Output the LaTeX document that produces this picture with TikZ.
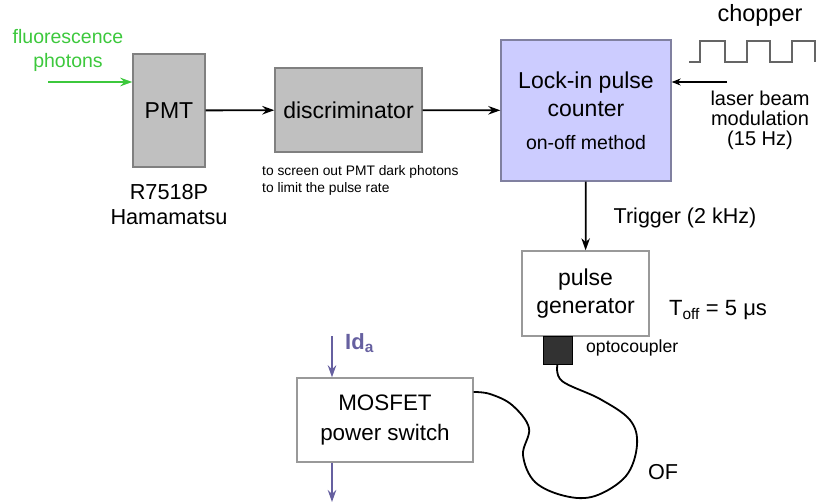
\documentclass[tikz,border=0pt]{standalone}
\usepackage{fontspec}
\setmainfont{Liberation Sans}
\usetikzlibrary{positioning}
\usetikzlibrary{arrows.meta}
\definecolor{boxgray}{RGB}{192,192,192}
\definecolor{edgegray}{RGB}{128,128,128}
\definecolor{lavender}{RGB}{204,204,255}
\definecolor{edgelav}{RGB}{128,128,160}
\definecolor{photongreen}{RGB}{60,200,60}
\definecolor{currentpurple}{RGB}{102,96,160}
\definecolor{optoblack}{RGB}{50,50,50}

\tikzset{
  unit/.style={draw=edgegray, line width=1.4pt, align=center, inner sep=0pt,
               font=\fontsize{23}{28}\selectfont},
  grayunit/.style={unit, fill=boxgray},
  sig/.style={->, line width=1.8pt},
  note/.style={align=center, font=\fontsize{20}{20}\selectfont}
}

\begin{document}
\begin{tikzpicture}[x=1pt, y=-1pt, >={Stealth[length=12pt,width=8.5pt]}]

\useasboundingbox (0,0) rectangle (817,503);

%---------------------------------------
% Detection chain
%---------------------------------------
\node[grayunit, minimum width=72pt, minimum height=113pt] (pmt) at (169,110.5) {PMT};
\node[grayunit, minimum width=147pt, minimum height=84pt] (disc) at (348.5,110) {discriminator};
\node[unit, fill=lavender, draw=edgelav, minimum width=170pt, minimum height=141pt] (lockin) at (586,110.5)
  {Lock-in pulse\\counter\\[5pt]{\fontsize{19.5}{22}\selectfont on-off method}};

% photons in
\node[note, text=photongreen, font=\fontsize{19.5}{24}\selectfont] (fluo) at (68,50) {fluorescence\\photons};
\coordinate (fl) at (48,82);
\draw[sig, photongreen] (fl) -- (pmt.west |- fl);

\node[note, font=\fontsize{21.7}{25}\selectfont] (pmtname) at (169,205) {R7518P\\Hamamatsu};

\draw[sig] (pmt) -- (disc);
\draw[sig] (disc) -- (lockin);

\node[align=left, anchor=west, inner sep=0pt, font=\fontsize{13.8}{17}\selectfont] (why) at (262,180.5)
  {to screen out PMT dark photons\\to limit the pulse rate};

%---------------------------------------
% Chopper
%---------------------------------------
\node[note, font=\fontsize{23.5}{28}\selectfont] (chop) at (760,15) {chopper};
\draw[line width=1.3pt, optoblack!75] (689,62) -- (700,62) -- (700,41) -- (725,41) -- (725,62)
  -- (747,62) -- (747,41) -- (770,41) -- (770,62) -- (792,62) -- (792,41) -- (815,41) -- (815,62);

\node[note] (laser) at (760,120) {laser beam\\modulation\\(15 Hz)};
\coordinate (las) at (727,82);
\draw[->, line width=1.1pt, >={Stealth[length=9pt,width=7pt]}] (las) -- (lockin.east |- las);

%---------------------------------------
% Trigger and pulse generator
%---------------------------------------
\node[unit, draw=edgegray!80, fill=white, minimum width=127pt, minimum height=85pt] (pgen) at (585.5,293.5)
  {pulse\\generator};
\draw[sig] (lockin) -- (pgen);
\node[note, font=\fontsize{21.5}{24}\selectfont] (trig) at (685,218) {Trigger (2 kHz)};
\node[note, font=\fontsize{22}{24}\selectfont] (toff) at (718,310) {T\textsubscript{off} = 5 μs};

\node[fill=optoblack, draw=black, minimum width=29pt, minimum height=28pt, inner sep=0pt] (opto) at (557.5,350) {};
\node[anchor=west, inner sep=0pt, font=\fontsize{17.6}{20}\selectfont] (optoname) at (586,348) {optocoupler};

%---------------------------------------
% MOSFET switch
%---------------------------------------
\node[unit, draw=edgegray!80, fill=white, minimum width=176pt, minimum height=84pt,
      font=\fontsize{22.4}{30}\selectfont] (mos) at (385,420) {MOSFET\\power switch};

\coordinate (idtop) at (332,336);
\coordinate (idbot) at (332,502);
\draw[->, line width=1.5pt, currentpurple] (idtop) -- (idtop |- mos.north);
\draw[->, line width=1.5pt, currentpurple] (mos.south -| idtop) -- (idbot);
\node[anchor=west, inner sep=0pt, text=currentpurple, font=\bfseries\fontsize{22}{24}\selectfont] (ida) at (345,343)
  {Id\textsubscript{a}};

% optical fibre
\coordinate (mosport) at (mos.east |- 0,392);
\draw[line width=1.8pt] plot[smooth, tension=0.6] coordinates {(opto.south) (562,381) (600,399) (630,420)
  (637,445) (626,476) (595,496) (565,496) (535,482) (523,455) (529,428) (512,405) (490,394) (mosport)};
\node[note, font=\fontsize{21.6}{24}\selectfont] (of) at (663,472) {OF};

\end{tikzpicture}
\end{document}
